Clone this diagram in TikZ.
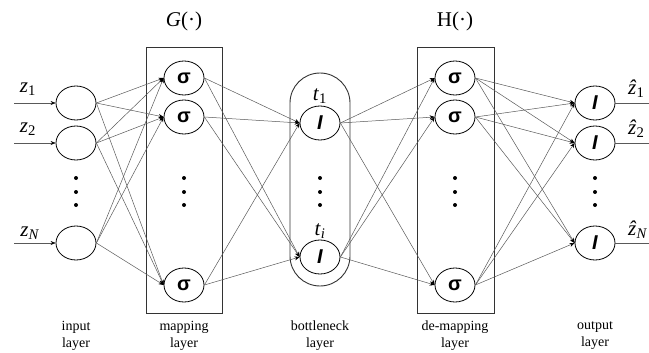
\documentclass[tikz,border=0pt]{standalone}
\usepackage{fontspec}
\setmainfont{Liberation Serif}
\newfontfamily\sansf{Liberation Sans}
\usetikzlibrary{shapes.geometric,arrows.meta}
\begin{document}
\begin{tikzpicture}[x=1pt,y=-1pt,
  neuron/.style={ellipse,draw=black,line width=0.8pt,minimum width=40pt,minimum height=34pt,inner sep=0pt,font=\sansf\bfseries\fontsize{20}{20}\selectfont},
  ineuron/.style={neuron,font=\sansf\bfseries\itshape\fontsize{20}{20}\selectfont},
  conn/.style={draw=black!65,line width=0.5pt,-{Stealth[length=5pt,width=4pt,black]}},
  plain/.style={draw=black!65,line width=0.5pt},
  lbl/.style={font=\fontsize{21}{21}\selectfont,inner sep=0pt},
  layerlbl/.style={font=\fontsize{14}{17}\selectfont,align=center},
  dot/.style={circle,fill=black,inner sep=0pt,minimum size=4pt},
  box/.style={draw=black!80,line width=0.9pt}]
\useasboundingbox (0,0) rectangle (649,353);

% containers
\draw[box] (146,47) rectangle (222,313);
\draw[box] (417,47) rectangle (494,313);
\draw[box,rounded corners=30pt] (290,73) rectangle (350,286);

% titles
\node[lbl] (G) at (184,21) {\textit{G}(·)};
\node[lbl] (H) at (455,21) {H(·)};

% input layer
\node[neuron] (i1) at (76,103) {};
\node[neuron] (i2) at (76,143) {};
\node[neuron] (iN) at (76,243) {};
% mapping layer
\node[neuron] (m1) at (184,78) {σ};
\node[neuron] (m2) at (184,117) {σ};
\node[neuron] (mN) at (184,285) {σ};
% bottleneck
\node[ineuron] (b1) at (320,123) {I};
\node[ineuron] (bi) at (320,257) {I};
% de-mapping
\node[neuron] (d1) at (455,78) {σ};
\node[neuron] (d2) at (455,117) {σ};
\node[neuron] (dN) at (455,285) {σ};
% output
\node[ineuron] (o1) at (595,103) {I};
\node[ineuron] (o2) at (595,143) {I};
\node[ineuron] (oN) at (595,243) {I};

% vertical ellipsis dots
\foreach \x/\n in {76/A,184/B,320/C,455/D,595/E}{
  \node[dot] (dot\n1) at (\x,178) {};
  \node[dot] (dot\n2) at (\x,192) {};
  \node[dot] (dot\n3) at (\x,205) {};
}

% labels of inputs / bottleneck / outputs
\node[lbl] (lz1) at (28,89) {\textit{z}\textsubscript{1}};
\node[lbl] (lz2) at (28,129) {\textit{z}\textsubscript{2}};
\node[lbl] (lzN) at (30,233) {\textit{z}\textsubscript{\textit{N}}};
\node[lbl] (lt1) at (320,96) {\textit{t}\textsubscript{1}};
\node[lbl] (lti) at (320,231) {\textit{t}\textsubscript{\textit{i}}};
\node[lbl,anchor=west] (lo1) at (628,89) {\textit{\^z}\textsubscript{1}};
\node[lbl,anchor=west] (lo2) at (628,129) {\textit{\^z}\textsubscript{2}};
\node[lbl,anchor=west] (loN) at (628,230) {\textit{\^z}\textsubscript{\textit{N}}};

% input arrows
\coordinate (s1) at (14,103);
\coordinate (s2) at (14,143);
\coordinate (sN) at (14,243);
\draw[conn] (s1) -- (i1.west);
\draw[conn] (s2) -- (i2.west);
\draw[conn] (sN) -- (iN.west);

% output lines
\coordinate (e1) at (649,103);
\coordinate (e2) at (649,143);
\coordinate (eN) at (649,243);
\draw[plain] (o1.east) -- (e1);
\draw[plain] (o2.east) -- (e2);
\draw[plain] (oN.east) -- (eN);

% connections
\foreach \a in {i1,i2,iN}{\foreach \b in {m1,m2,mN}{\draw[conn] (\a.east) -- (\b.west);}}
\foreach \a in {m1,m2,mN}{\foreach \b in {b1,bi}{\draw[conn] (\a.east) -- (\b.west);}}
\foreach \a in {b1,bi}{\foreach \b in {d1,d2,dN}{\draw[conn] (\a.east) -- (\b.west);}}
\foreach \a in {d1,d2,dN}{\foreach \b in {o1,o2,oN}{\draw[conn] (\a.east) -- (\b.west);}}

% layer labels
\node[layerlbl] (L1) at (76,336) {input\\layer};
\node[layerlbl] (L2) at (184,336) {mapping\\layer};
\node[layerlbl] (L3) at (320,336) {bottleneck\\layer};
\node[layerlbl] (L4) at (455,336) {de-mapping\\layer};
\node[layerlbl] (L5) at (595,336) {output\\layer};
\end{tikzpicture}
\end{document}
